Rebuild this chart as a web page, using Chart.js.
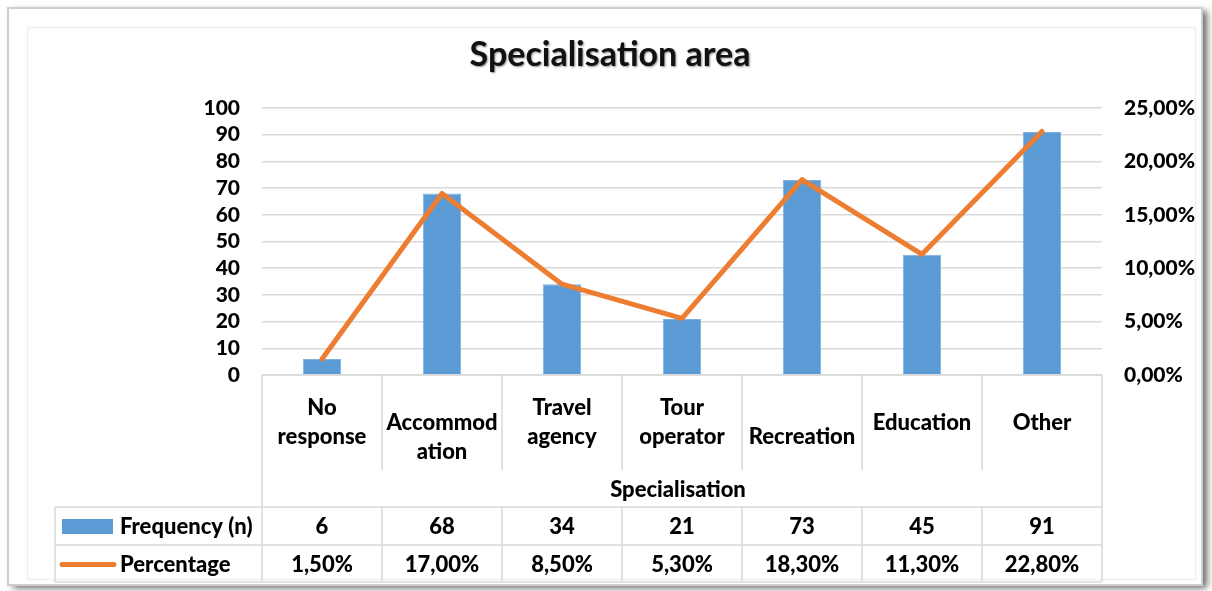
<!DOCTYPE html>
<html>
<head>
<meta charset="utf-8">
<title>Specialisation area</title>
<script src="https://cdn.jsdelivr.net/npm/chart.js@4.4.1/dist/chart.umd.min.js"></script>
<style>
  html, body { margin: 0; padding: 0; background: #ffffff; overflow: hidden; }
  #wrap { width: 1212px; height: 591px; position: relative; }
</style>
</head>
<body>
<div id="wrap"><canvas id="chart" width="1212" height="591"></canvas></div>
<script>
// ---- data ----
const chartTitle = 'Specialisation area';
const axisTitle = 'Specialisation';
const categories = [
  ['No', 'response'],
  ['', 'Accommod', 'ation'],
  ['Travel', 'agency'],
  ['Tour', 'operator'],
  ['', 'Recreation'],
  ['Education'],
  ['Other']
];
const seriesNames = ['Frequency (n)', 'Percentage'];
const frequency = [6, 68, 34, 21, 73, 45, 91];
const percentage = [1.5, 17.0, 8.5, 5.3, 18.3, 11.3, 22.8];
const countTicks = [0, 10, 20, 30, 40, 50, 60, 70, 80, 90, 100];
const percentTicks = [0, 5, 10, 15, 20, 25];

// ---- styling ----
const FONT = 'Lato, "Open Sans", "DejaVu Sans", sans-serif';
const WEIGHT = '900';
const BAR_COLOR = '#5B9BD5';
const LINE_COLOR = '#ED7D31';
const GRID_COLOR = '#d9d9d9';
const fmtPct = v => v.toFixed(2).replace('.', ',') + '%';

// Outer chart frame with soft drop shadow, plus the title
const framePlugin = {
  id: 'frame',
  beforeDraw(chart) {
    const ctx = chart.ctx;
    ctx.save();
    ctx.fillStyle = '#ffffff';
    ctx.fillRect(0, 0, chart.width, chart.height);
    ctx.shadowColor = 'rgba(0,0,0,0.6)';
    ctx.shadowBlur = 7;
    ctx.shadowOffsetX = 5;
    ctx.shadowOffsetY = 3;
    ctx.fillStyle = '#ffffff';
    ctx.fillRect(8, 8, 1194, 577);
    ctx.restore();
    ctx.save();
    ctx.strokeStyle = '#cfcfcf';
    ctx.lineWidth = 2;
    ctx.strokeRect(8, 8, 1194, 577);
    ctx.strokeStyle = '#f0f0f0';
    ctx.lineWidth = 1.5;
    ctx.strokeRect(27.5, 27.5, 1168, 552);
    ctx.restore();
    ctx.save();
    ctx.font = '700 34px ' + FONT;
    ctx.fillStyle = '#111111';
    ctx.textAlign = 'center';
    ctx.textBaseline = 'middle';
    ctx.shadowColor = 'rgba(0,0,0,0.45)';
    ctx.shadowBlur = 2;
    ctx.shadowOffsetX = 1;
    ctx.shadowOffsetY = 1;
    ctx.fillText(chartTitle, chart.width / 2 + 4, 55);
    ctx.restore();
  }
};

// Data table under the plot: category header, axis title, legend keys and values
const tablePlugin = {
  id: 'dataTable',
  afterDraw(chart) {
    const ctx = chart.ctx;
    const xs = chart.scales.x;
    const area = chart.chartArea;
    const left = area.left, right = area.right, top = area.bottom;
    const colW = xs.getPixelForValue(1) - xs.getPixelForValue(0);
    const headBottom = top + 95;
    const titleBottom = top + 132;
    const row1Bottom = top + 170;
    const row2Bottom = top + 207;
    const legendLeft = 55;

    ctx.save();
    ctx.strokeStyle = GRID_COLOR;
    ctx.lineWidth = 1.5;
    const line = (x1, y1, x2, y2) => {
      ctx.beginPath(); ctx.moveTo(x1, y1); ctx.lineTo(x2, y2); ctx.stroke();
    };
    line(left, top, right, top);
    line(left, top, left, row2Bottom);
    line(right, top, right, row2Bottom);
    for (let i = 1; i < categories.length; i++) {
      const x = left + i * colW;
      line(x, top, x, headBottom);
      line(x, titleBottom, x, row2Bottom);
    }
    line(legendLeft, titleBottom, right, titleBottom);
    line(legendLeft, row1Bottom, right, row1Bottom);
    line(legendLeft, row2Bottom, right, row2Bottom);
    line(legendLeft, titleBottom, legendLeft, row2Bottom);

    ctx.fillStyle = '#000000';
    ctx.font = WEIGHT + ' 22px ' + FONT;
    ctx.textAlign = 'center';
    ctx.textBaseline = 'middle';
    const headMid = (top + headBottom) / 2;
    const lh = 29;
    categories.forEach((lines, i) => {
      const cx = xs.getPixelForValue(i);
      const y0 = headMid - (lines.length - 1) * lh / 2;
      lines.forEach((t, k) => { if (t) ctx.fillText(t, cx, y0 + k * lh); });
    });
    ctx.fillText(axisTitle, (left + right) / 2 - 4, (headBottom + titleBottom) / 2 + 1);

    const r1 = (titleBottom + row1Bottom) / 2 + 1;
    const r2 = (row1Bottom + row2Bottom) / 2 + 1;
    frequency.forEach((v, i) => ctx.fillText(String(v), xs.getPixelForValue(i), r1));
    percentage.forEach((v, i) => ctx.fillText(fmtPct(v), xs.getPixelForValue(i), r2));

    // legend keys
    ctx.fillStyle = BAR_COLOR;
    ctx.fillRect(62, r1 - 8, 51, 15);
    ctx.strokeStyle = LINE_COLOR;
    ctx.lineWidth = 5;
    ctx.lineCap = 'round';
    line(62, r2, 114, r2);
    ctx.fillStyle = '#000000';
    ctx.textAlign = 'left';
    ctx.fillText(seriesNames[0], 120, r1);
    ctx.fillText(seriesNames[1], 120, r2);
    ctx.restore();
  }
};

const tickFont = { family: FONT, size: 21, weight: WEIGHT };

new Chart(document.getElementById('chart').getContext('2d'), {
  type: 'bar',
  data: {
    labels: categories.map(c => c.filter(Boolean).join(' ')),
    datasets: [
      {
        type: 'line',
        label: seriesNames[1],
        data: percentage,
        yAxisID: 'y1',
        borderColor: LINE_COLOR,
        borderWidth: 5,
        borderCapStyle: 'round',
        borderJoinStyle: 'round',
        pointRadius: 0,
        tension: 0,
        order: 0
      },
      {
        type: 'bar',
        label: seriesNames[0],
        data: frequency,
        yAxisID: 'y',
        backgroundColor: BAR_COLOR,
        borderColor: '#7fb0de',
        borderWidth: 1,
        categoryPercentage: 1,
        barPercentage: 0.32,
        order: 1
      }
    ]
  },
  options: {
    responsive: false,
    animation: false,
    devicePixelRatio: 1,
    layout: { padding: { top: 108, bottom: 216, left: 0, right: 0 } },
    plugins: {
      legend: { display: false },
      tooltip: { enabled: false },
      title: { display: false }
    },
    scales: {
      x: { display: false },
      y: {
        position: 'left',
        min: 0, max: 100,
        afterBuildTicks: s => { s.ticks = countTicks.map(v => ({ value: v })); },
        afterFit: s => { s.width = 262; },
        grid: { color: GRID_COLOR, lineWidth: 1.5, drawTicks: false },
        border: { display: false },
        ticks: { autoSkip: false, padding: 22, color: '#000000', font: tickFont }
      },
      y1: {
        position: 'right',
        min: 0, max: 25,
        afterBuildTicks: s => { s.ticks = percentTicks.map(v => ({ value: v })); },
        afterFit: s => { s.width = 110; },
        grid: { display: false, drawTicks: false },
        border: { display: false },
        ticks: { autoSkip: false, padding: 22, color: '#000000', font: tickFont, callback: v => fmtPct(v) }
      }
    }
  },
  plugins: [framePlugin, tablePlugin]
});
</script>
</body>
</html>
